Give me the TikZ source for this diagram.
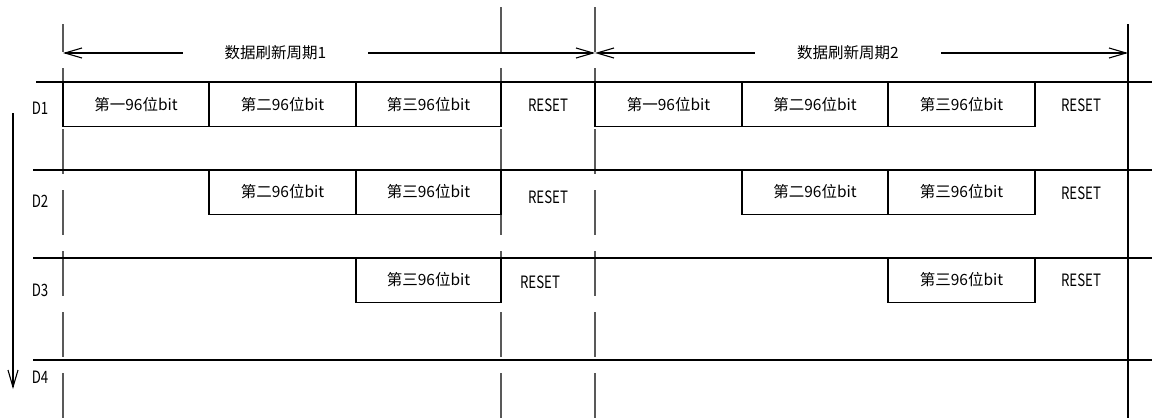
\documentclass[tikz,border=0pt]{standalone}
\usepackage{fontspec}
\setmainfont{Noto Sans CJK SC}
\newfontfamily\narrowfont[FakeStretch=0.78]{Noto Sans CJK SC}
\usetikzlibrary{arrows.meta}
\begin{document}
\begin{tikzpicture}[x=1pt,y=-1pt,
  hline/.style={line width=1.3pt,black},
  dline/.style={line width=1.2pt,black!65,dash pattern=on 45pt off 16pt},
  cell/.style={draw,line width=1.3pt,minimum width=#1,minimum height=44.5pt,inner sep=0pt,font=\fontsize{15.5}{16}\selectfont},
  rst/.style={inner sep=0pt,font=\fontsize{17}{17}\narrowfont},
  rowlab/.style={inner sep=0pt,font=\fontsize{17}{17}\narrowfont},
  plabel/.style={inner sep=0pt,font=\fontsize{15.5}{16}\selectfont},
  arr/.style={line width=1.1pt,-{Straight Barb[length=17pt,width=10pt,line width=1.1pt]}}]
\useasboundingbox (0,0) rectangle (1152,418);
% vertical guide lines
\coordinate (g0a) at (63,24);   \coordinate (g0b) at (63,418);
\coordinate (g1a) at (501,7);   \coordinate (g1b) at (501,418);
\coordinate (g2a) at (595,7);   \coordinate (g2b) at (595,418);
\coordinate (g3a) at (1128,24); \coordinate (g3b) at (1128,418);
\draw[dline,dash phase=17pt] (g0a) -- (g0b);
\draw[dline] (g1a) -- (g1b);
\draw[dline] (g2a) -- (g2b);
\draw[hline] (g3a) -- (g3b);
% horizontal row lines
\draw[hline] (36,82) -- (1152,82);
\draw[hline] (33,170) -- (1152,170);
\draw[hline] (33,258) -- (1152,258);
\draw[hline] (33,360) -- (1152,360);
% period arrows
\coordinate (t0) at (63,53);
\coordinate (t1) at (595,53);
\coordinate (t2) at (1128,53);
\node[plabel,minimum width=185pt] (per1) at (275.5,53) {数据刷新周期1};
\node[plabel,minimum width=186pt] (per2) at (848,53) {数据刷新周期2};
\draw[arr] (per1.west) -- (t0);
\draw[arr] (per1.east) -- (t1);
\draw[arr] (per2.west) -- (t1);
\draw[arr] (per2.east) -- (t2);
% left time arrow
\coordinate (va0) at (13,113);
\coordinate (va1) at (13,389);
\draw[arr] (va0) -- (va1);
% row labels
\node[rowlab] (d1) at (40,108) {D1};
\node[rowlab] (d2) at (40,201) {D2};
\node[rowlab] (d3) at (40,290) {D3};
\node[rowlab] (d4) at (40,377) {D4};
% D1 row
\node[cell=146pt] (a11) at (136,104.5) {第一96位bit};
\node[cell=147pt] (a12) at (282.5,104.5) {第二96位bit};
\node[cell=145pt] (a13) at (428.5,104.5) {第三96位bit};
\node[rst] (r11) at (548,105) {RESET};
\node[cell=147pt] (b11) at (668.5,104.5) {第一96位bit};
\node[cell=146pt] (b12) at (815,104.5) {第二96位bit};
\node[cell=147pt] (b13) at (961.5,104.5) {第三96位bit};
\node[rst] (r12) at (1081,105) {RESET};
% D2 row
\node[cell=147pt] (a22) at (282.5,192) {第二96位bit};
\node[cell=145pt] (a23) at (428.5,192) {第三96位bit};
\node[rst] (r21) at (548,197) {RESET};
\node[cell=146pt] (b22) at (815,192) {第二96位bit};
\node[cell=147pt] (b23) at (961.5,192) {第三96位bit};
\node[rst] (r22) at (1081,193) {RESET};
% D3 row
\node[cell=145pt] (a33) at (428.5,280) {第三96位bit};
\node[rst] (r31) at (540,282) {RESET};
\node[cell=147pt] (b33) at (961.5,280) {第三96位bit};
\node[rst] (r32) at (1081,280) {RESET};
\end{tikzpicture}
\end{document}
